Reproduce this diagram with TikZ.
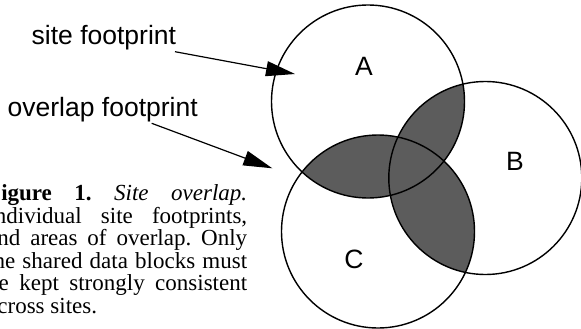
\documentclass[tikz,border=0pt]{standalone}
\usepackage{fontspec}
\setmainfont{Liberation Serif}
\newfontfamily\labelfont{Liberation Sans}
\usetikzlibrary{arrows.meta}
\definecolor{overlapgray}{HTML}{5C5C5C}
\begin{document}
\begin{tikzpicture}[x=1pt,y=-1pt,
  footprint/.style={circle, draw=black, line width=1.4pt,
    minimum size=193pt, inner sep=0pt},
  sitename/.style={font=\labelfont\fontsize{26.5}{30}\selectfont, inner sep=0pt},
  callout/.style={font=\labelfont\fontsize{26.5}{30}\selectfont, inner sep=0pt,
    anchor=base west},
  pointer/.style={line width=1.2pt, -{Triangle[length=29pt,width=15pt]}},
  caption/.style={inner sep=0pt, anchor=base west}]
  \clip (0,0) rectangle (581,329);
  \useasboundingbox (0,0) rectangle (581,329);

  % centres of the three site footprints
  \coordinate (cA) at (368,101.5);
  \coordinate (cB) at (485.3,178);
  \coordinate (cC) at (378,231.5);

  % pairwise overlaps
  \begin{scope}
    \clip (cA) circle[radius=96.5pt];
    \fill[overlapgray] (cB) circle[radius=96.5pt];
    \fill[overlapgray] (cC) circle[radius=96.5pt];
  \end{scope}
  \begin{scope}
    \clip (cB) circle[radius=96.5pt];
    \fill[overlapgray] (cC) circle[radius=96.5pt];
  \end{scope}

  % footprint outlines
  \node[footprint] (siteA) at (cA) {};
  \node[footprint] (siteB) at (cB) {};
  \node[footprint] (siteC) at (cC) {};

  \node[sitename] (labA) at (364,66) {A};
  \node[sitename] (labB) at (515,161) {B};
  \node[sitename] (labC) at (354,259) {C};

  % callouts
  \node[callout] (siteText) at (31.5,45) {site footprint};
  \node[callout] (overlapText) at (7.5,117) {overlap footprint};
  \coordinate (siteFrom) at (175,51.7);
  \coordinate (siteTo) at (295,74);
  \coordinate (overlapFrom) at (151.7,123.3);
  \coordinate (overlapTo) at (272.3,168.3);
  \draw[pointer] (siteFrom) -- (siteTo);
  \draw[pointer] (overlapFrom) -- (overlapTo);

  % figure caption, set in a justified block whose left edge runs off the page
  \node[caption] (figCaption) at (-13,200.5) {\parbox[t]{260pt}{%
    \fontsize{23}{22.6}\selectfont\frenchspacing
    \textbf{Figure 1.} \textit{Site overlap.}\linebreak
    Individual site footprints,\linebreak
    and areas of overlap. Only\linebreak
    the shared data blocks must\linebreak
    be kept strongly consistent\linebreak
    across sites.}};
\end{tikzpicture}
\end{document}
